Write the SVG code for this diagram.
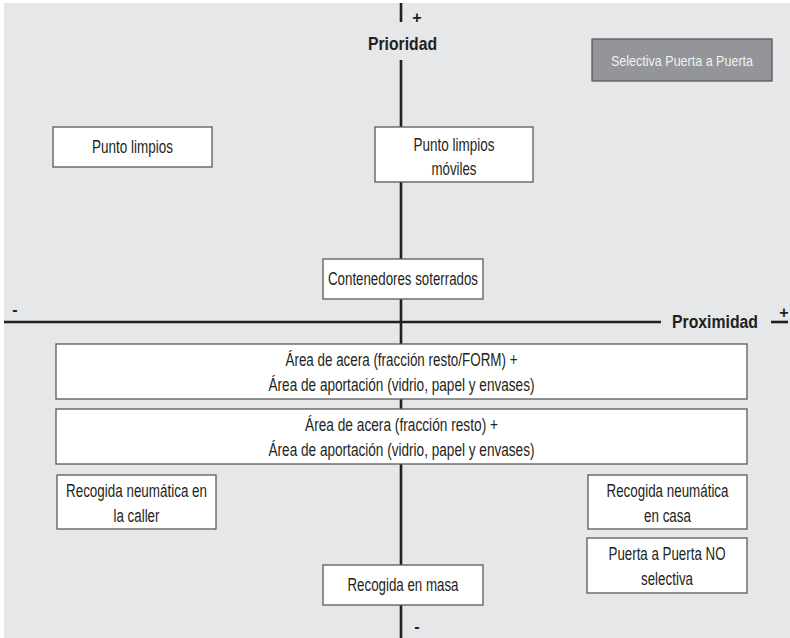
<svg xmlns="http://www.w3.org/2000/svg" width="790" height="638" viewBox="0 0 790 638">
<style>
.bg{fill:#e6e7e8}
.box{fill:#ffffff;stroke:#58595b;stroke-width:1.3}
.gbox{fill:#939598;stroke:#58595b;stroke-width:1.3}
.axis{stroke:#231f20;stroke-width:2.6;fill:none}
text{font-family:"Liberation Sans",Arial,sans-serif;font-size:17.5px;fill:#231f20;text-anchor:middle}
.lbl{font-weight:bold;font-size:18.5px}
.sign{font-weight:bold;font-size:16px}
.gtxt{fill:#f1f2f2;font-size:15px}
</style>
<rect class="bg" x="4" y="3" width="786" height="635"/>
<g id="axes">
<line class="axis" x1="401" y1="3" x2="401" y2="22"/>
<line class="axis" x1="401" y1="60" x2="401" y2="638"/>
<line class="axis" x1="4" y1="322" x2="661" y2="322"/>
<line class="axis" x1="771" y1="322" x2="788" y2="322"/>
<text class="sign" x="417" y="23">+</text>
<text class="lbl" x="402.5" y="50" textLength="69" lengthAdjust="spacingAndGlyphs">Prioridad</text>
<text class="sign" x="417" y="632">-</text>
<text class="sign" x="15" y="315">-</text>
<text class="lbl" x="715" y="328" textLength="86" lengthAdjust="spacingAndGlyphs">Proximidad</text>
<text class="sign" x="784" y="318">+</text>
</g>
<g id="selectiva">
<rect class="gbox" x="592" y="39" width="180" height="42"/>
<text class="gtxt" x="682" y="66" textLength="142" lengthAdjust="spacingAndGlyphs">Selectiva Puerta a Puerta</text>
</g>
<g id="punto-limpios">
<rect class="box" x="53" y="127" width="159" height="40"/>
<text x="132.5" y="153" textLength="81" lengthAdjust="spacingAndGlyphs">Punto limpios</text>
</g>
<g id="punto-limpios-moviles">
<rect class="box" x="375" y="127" width="158" height="55"/>
<text x="454" y="151" textLength="81" lengthAdjust="spacingAndGlyphs">Punto limpios</text>
<text x="454" y="175" textLength="45" lengthAdjust="spacingAndGlyphs">móviles</text>
</g>
<g id="contenedores">
<rect class="box" x="323" y="259" width="160" height="40"/>
<text x="403" y="285" textLength="150" lengthAdjust="spacingAndGlyphs">Contenedores soterrados</text>
</g>
<g id="area-form">
<rect class="box" x="56" y="344" width="691" height="55"/>
<text x="401.5" y="366" textLength="232" lengthAdjust="spacingAndGlyphs">Área de acera (fracción resto/FORM) +</text>
<text x="401.5" y="391" textLength="266" lengthAdjust="spacingAndGlyphs">Área de aportación (vidrio, papel y envases)</text>
</g>
<g id="area-resto">
<rect class="box" x="56" y="409" width="691" height="55"/>
<text x="401.5" y="431" textLength="193" lengthAdjust="spacingAndGlyphs">Área de acera (fracción resto) +</text>
<text x="401.5" y="456" textLength="266" lengthAdjust="spacingAndGlyphs">Área de aportación (vidrio, papel y envases)</text>
</g>
<g id="neumatica-calle">
<rect class="box" x="57" y="475" width="159" height="54"/>
<text x="136.5" y="497" textLength="141" lengthAdjust="spacingAndGlyphs">Recogida neumática en</text>
<text x="136.5" y="522" textLength="46" lengthAdjust="spacingAndGlyphs">la caller</text>
</g>
<g id="neumatica-casa">
<rect class="box" x="588" y="475" width="159" height="54"/>
<text x="667.5" y="497" textLength="122" lengthAdjust="spacingAndGlyphs">Recogida neumática</text>
<text x="667.5" y="522" textLength="47" lengthAdjust="spacingAndGlyphs">en casa</text>
</g>
<g id="ppp-no-selectiva">
<rect class="box" x="587" y="538" width="160" height="55"/>
<text x="667" y="560" textLength="117" lengthAdjust="spacingAndGlyphs">Puerta a Puerta NO</text>
<text x="667" y="585" textLength="52" lengthAdjust="spacingAndGlyphs">selectiva</text>
</g>
<g id="recogida-masa">
<rect class="box" x="323" y="565" width="160" height="40"/>
<text x="403" y="591" textLength="111" lengthAdjust="spacingAndGlyphs">Recogida en masa</text>
</g>
</svg>
